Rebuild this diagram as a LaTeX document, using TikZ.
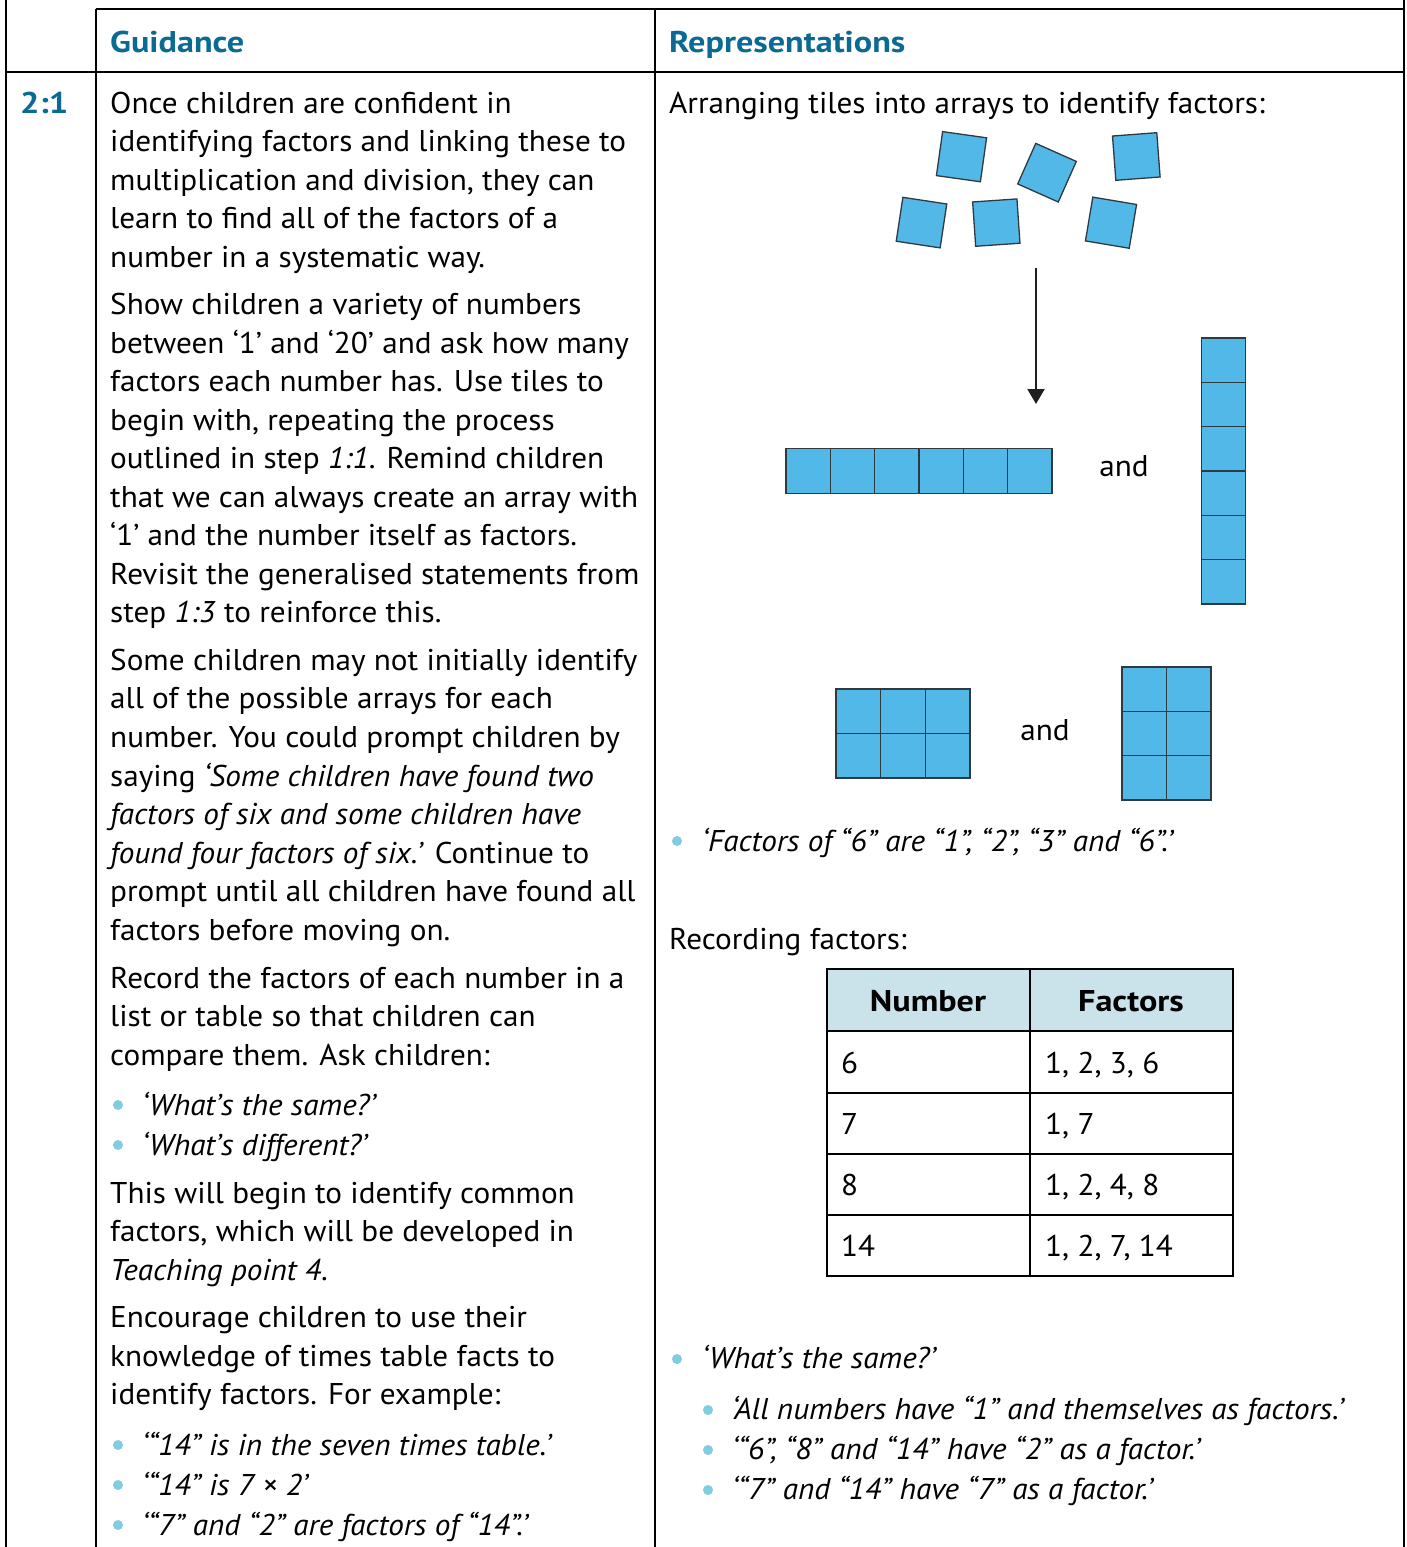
\documentclass[tikz,border=0pt]{standalone}
\usepackage{fontspec}
\setmainfont{PT Sans}[FakeStretch=1.04, BoldFeatures={FakeStretch=1.14}]
\usetikzlibrary{arrows.meta}
\definecolor{headc}{HTML}{0A6A92}
\definecolor{tilec}{HTML}{52B8E8}
\definecolor{tileb}{HTML}{2F3A40}
\definecolor{dotc}{HTML}{80CCE0}
\definecolor{thc}{HTML}{CAE3EA}
\begin{document}
\begin{tikzpicture}[x=1pt,y=-1pt,
 txt/.style={anchor=base west, inner sep=0pt, font=\fontsize{30}{36}\selectfont},
 itxt/.style={txt, font=\fontsize{30}{36}\selectfont\itshape},
 hd/.style={anchor=base west, inner sep=0pt, font=\fontsize{30}{36}\selectfont\bfseries, text=headc},
 gridline/.style={line width=2pt, draw=black},
 tilebox/.style={draw=tileb, fill=tilec, line width=1.3pt, minimum size=44.4pt, inner sep=0pt},
 bdot/.style={circle, fill=dotc, inner sep=0pt, minimum size=10pt},
]
\useasboundingbox (0,0) rectangle (1407,1547);
% frame
\draw[gridline] (6,0) -- (6,1547);
\draw[gridline] (1404,0) -- (1404,1547);
\draw[gridline] (96,9) -- (1404,9);
\draw[gridline] (6,72) -- (1404,72);
\draw[gridline] (96,9) -- (96,1547);
\draw[gridline] (655,9) -- (655,1547);
% headers
\node[hd] (hG) at (110,52) {Guidance};
\node[hd] (hR) at (669,52) {Representations};
\node[hd] (h21) at (20,113) {2:1};
% left column
\node[txt] (l1) at (110,113) {Once children are confident in};
\node[txt] (l2) at (110,151) {identifying factors and linking these to};
\node[txt] (l3) at (110,190) {multiplication and division, they can};
\node[txt] (l4) at (110,228) {learn to find all of the factors of a};
\node[txt] (l5) at (110,267) {number in a systematic way.};
\node[txt] (l6) at (110,314) {Show children a variety of numbers};
\node[txt] (l7) at (110,353) {between ‘1’ and ‘20’ and ask how many};
\node[txt] (l8) at (110,391) {factors each number has. Use tiles to};
\node[txt] (l9) at (110,430) {begin with, repeating the process};
\node[txt] (l10) at (110,468) {outlined in step \textit{1:1}. Remind children};
\node[txt] (l11) at (110,507) {that we can always create an array with};
\node[txt] (l12) at (110,545) {‘1’ and the number itself as factors.};
\node[txt] (l13) at (110,584) {Revisit the generalised statements from};
\node[txt] (l14) at (110,622) {step \textit{1:3} to reinforce this.};
\node[txt] (l15) at (110,670) {Some children may not initially identify};
\node[txt] (l16) at (110,708) {all of the possible arrays for each};
\node[txt] (l17) at (110,747) {number. You could prompt children by};
\node[txt] (l18) at (110,786) {saying \textit{‘Some children have found two}};
\node[itxt] (l19) at (110,824) {factors of six and some children have};
\node[txt] (l20) at (110,863) {\textit{found four factors of six.’} Continue to};
\node[txt] (l21) at (110,901) {prompt until all children have found all};
\node[txt] (l22) at (110,940) {factors before moving on.};
\node[txt] (l23) at (110,988) {Record the factors of each number in a};
\node[txt] (l24) at (110,1026) {list or table so that children can};
\node[txt] (l25) at (110,1065) {compare them. Ask children:};
\node[bdot] (lb1) at (118,1105) {};
\node[itxt] (lb1t) at (142,1115) {‘What’s the same?’};
\node[bdot] (lb2) at (118,1145) {};
\node[itxt] (lb2t) at (142,1155) {‘What’s different?’};
\node[txt] (l26) at (110,1203) {This will begin to identify common};
\node[txt] (l27) at (110,1241) {factors, which will be developed in};
\node[txt] (l28) at (110,1280) {\textit{Teaching point 4}.};
\node[txt] (l29) at (110,1327) {Encourage children to use their};
\node[txt] (l30) at (110,1366) {knowledge of times table facts to};
\node[txt] (l31) at (110,1404) {identify factors. For example:};
\node[bdot] (lb3) at (118,1445) {};
\node[itxt] (lb3t) at (142,1455) {‘“14” is in the seven times table.’};
\node[bdot] (lb4) at (118,1485) {};
\node[itxt] (lb4t) at (142,1495) {‘“14” is 7 × 2’};
\node[bdot] (lb5) at (118,1525) {};
\node[itxt] (lb5t) at (142,1535) {‘“7” and “2” are factors of “14”.’};
% right column
\node[txt] (r1) at (669,113) {Arranging tiles into arrays to identify factors:};
\node[tilebox, rotate=-8] (s1) at (961.5,156.7) {};
\node[tilebox, rotate=-24] (s2) at (1047,172.7) {};
\node[tilebox, rotate=4.3] (s3) at (1136.3,156.5) {};
\node[tilebox, rotate=-8.6] (s4) at (921.5,222.6) {};
\node[tilebox, rotate=3.9] (s5) at (996.3,222.6) {};
\node[tilebox, rotate=-9.5] (s6) at (1111,222.7) {};
\coordinate (arS) at (1036,268);
\coordinate (arE) at (1036,404);
\draw[-{Triangle[width=17pt,length=15pt]}, line width=2pt, draw=black!88] (arS) -- (arE);
\foreach \i in {0,...,5} {
  \node[tilebox] (row\i) at ({808.2+44.33*\i},471) {};
  \node[tilebox] (col\i) at (1223.5,{360.2+44.33*\i}) {};
}
\node[txt, anchor=base] (and1) at (1124,476) {and};
\foreach \i in {0,1,2} {
  \foreach \j in {0,1} {
    \node[tilebox] (a\i\j) at ({858.3+44.67*\i},{711.2+44.5*\j}) {};
    \node[tilebox] (b\j\i) at ({1144.2+44.5*\j},{689.2+44.33*\i}) {};
  }
}
\node[txt, anchor=base] (and2) at (1045,740) {and};
\node[bdot] (rb1) at (677,841) {};
\node[itxt] (rb1t) at (702,851) {‘Factors of “6” are “1”, “2”, “3” and “6”.’};
\node[txt] (r2) at (669,949) {Recording factors:};
% table
\draw[gridline, fill=thc] (827,969) rectangle (1233,1031);
\draw[gridline] (827,969) rectangle (1233,1276);
\draw[gridline] (827,1093) -- (1233,1093);
\draw[gridline] (827,1154) -- (1233,1154);
\draw[gridline] (827,1215) -- (1233,1215);
\draw[gridline] (1030,969) -- (1030,1276);
\node[txt, anchor=base, font=\fontsize{30}{36}\selectfont\bfseries] (th1) at (928,1011) {Number};
\node[txt, anchor=base, font=\fontsize{30}{36}\selectfont\bfseries] (th2) at (1131,1011) {Factors};
\node[txt] (c11) at (841,1073) {6};
\node[txt] (c12) at (1045,1073) {1, 2, 3, 6};
\node[txt] (c21) at (841,1134) {7};
\node[txt] (c22) at (1045,1134) {1, 7};
\node[txt] (c31) at (841,1195) {8};
\node[txt] (c32) at (1045,1195) {1, 2, 4, 8};
\node[txt] (c41) at (841,1256) {14};
\node[txt] (c42) at (1045,1256) {1, 2, 7, 14};
% right bullets
\node[bdot] (rb2) at (677,1359) {};
\node[itxt] (rb2t) at (702,1368) {‘What’s the same?’};
\node[bdot] (rb3) at (708,1410) {};
\node[itxt] (rb3t) at (732,1419) {‘All numbers have “1” and themselves as factors.’};
\node[bdot] (rb4) at (708,1450) {};
\node[itxt] (rb4t) at (732,1459) {‘“6”, “8” and “14” have “2” as a factor.’};
\node[bdot] (rb5) at (708,1490) {};
\node[itxt] (rb5t) at (732,1499) {‘“7” and “14” have “7” as a factor.’};
\end{tikzpicture}
\end{document}
